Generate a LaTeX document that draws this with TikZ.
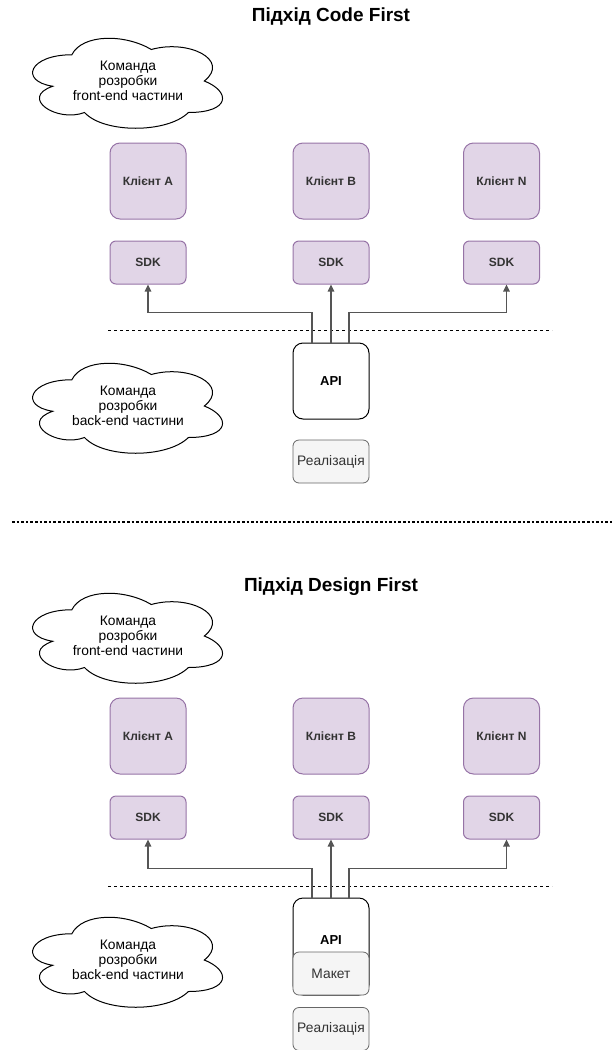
\documentclass[tikz,border=0pt]{standalone}
\usepackage{fontspec}
\setmainfont{Liberation Sans}
\usetikzlibrary{positioning,arrows.meta}

\definecolor{lilac}{HTML}{E1D5E7}
\definecolor{lilacline}{HTML}{9673A6}
\definecolor{greyfill}{HTML}{F5F5F5}
\definecolor{greyline}{HTML}{666666}
\definecolor{greytext}{HTML}{333333}
\definecolor{wirecol}{HTML}{555555}

\tikzset{
  client/.style={draw=lilacline,fill=lilac,line width=1pt,rounded corners=10pt,
    minimum width=76pt,minimum height=76pt,text=greytext,
    font=\fontsize{12}{14}\selectfont\bfseries},
  sdkbox/.style={client,minimum height=43pt,rounded corners=6pt},
  apibox/.style={draw,line width=1pt,rounded corners=10pt,minimum width=76pt,
    minimum height=76pt,font=\fontsize{13}{15}\selectfont\bfseries},
  implbox/.style={draw=greyline,fill=greyfill,line width=0.8pt,text=greytext,
    rounded corners=6pt,minimum width=76pt,minimum height=43pt,
    font=\fontsize{13.8}{15}\selectfont},
  team/.style={align=center,font=\fontsize{13.8}{15}\selectfont},
  heading/.style={font=\fontsize{19}{22}\selectfont\bfseries},
  wire/.style={draw=wirecol,line width=1.2pt,-{Triangle[length=7pt,width=6.5pt]}},
  border/.style={line width=0.8pt,dash pattern=on 3pt off 3pt}
}

% cloud outline around a named node
\newcommand{\cloudaround}[1]{%
  \draw[line width=1pt,shift={(#1.center)},xscale=212,yscale=105,shift={(-0.515,-0.5)}]
    (0.25,0.25) .. controls (0.05,0.25) and (0,0.5) .. (0.16,0.55)
    .. controls (0,0.66) and (0.18,0.9) .. (0.31,0.8)
    .. controls (0.4,1) and (0.7,1) .. (0.8,0.8)
    .. controls (1,0.8) and (1,0.6) .. (0.875,0.5)
    .. controls (1,0.3) and (0.8,0.1) .. (0.625,0.2)
    .. controls (0.5,0.05) and (0.3,0.05) .. (0.25,0.25) -- cycle;}

\begin{document}
\begin{tikzpicture}[x=1pt,y=-1pt]

\useasboundingbox (0,0) rectangle (612,1050);

% Code First
\node[heading] (title1) at (331,17) {Підхід Code First};

\node[team] (front1) at (128,81) {Команда\\розробки\\front-end частини};
\cloudaround{front1}

\foreach \c/\x in {A/148,B/331,N/501.5}{
  \node[client] (cl\c1) at (\x,181) {Клієнт \c};
  \node[sdkbox] (sdk\c1) at (\x,262.5) {SDK};
}

\node[apibox] (api1) at (331,381) {API};
\node[implbox] (impl1) at (331,461.5) {Реалізація};

\node[team] (back1) at (128,406) {Команда\\розробки\\back-end частини};
\cloudaround{back1}

\draw[border] (108,330) -- (552,330);

\draw[wire] ([xshift=-19pt]api1.north) -- ++(0,-30) -| (sdkA1.south);
\draw[wire] (api1.north) -- (sdkB1.south);
\draw[wire] ([xshift=18pt]api1.north) -- ++(0,-30) -| ([xshift=5pt]sdkN1.south);

% separator
\draw[line width=2.6pt,dash pattern=on 2.6pt off 2pt] (12,522) -- (612,522);

% Design First
\node[heading] (title2) at (331,587) {Підхід Design First};

\node[team] (front2) at (128,636) {Команда\\розробки\\front-end частини};
\cloudaround{front2}

\foreach \c/\x in {A/148,B/331,N/501.5}{
  \node[client] (cl\c2) at (\x,736) {Клієнт \c};
  \node[sdkbox] (sdk\c2) at (\x,817.5) {SDK};
}

\node[apibox,minimum height=97pt,text depth=13pt] (api2) at (331,946.5) {API};
\node[implbox] (mock2) at (331,973.5) {Макет};
\node[implbox] (impl2) at (331,1029) {Реалізація};

\node[team] (back2) at (128,960) {Команда\\розробки\\back-end частини};
\cloudaround{back2}

\draw[border] (108,886) -- (552,886);

\draw[wire] ([xshift=-19pt]api2.north) -- ++(0,-29) -| (sdkA2.south);
\draw[wire] (api2.north) -- (sdkB2.south);
\draw[wire] ([xshift=18pt]api2.north) -- ++(0,-29) -| ([xshift=5pt]sdkN2.south);

\end{tikzpicture}
\end{document}
